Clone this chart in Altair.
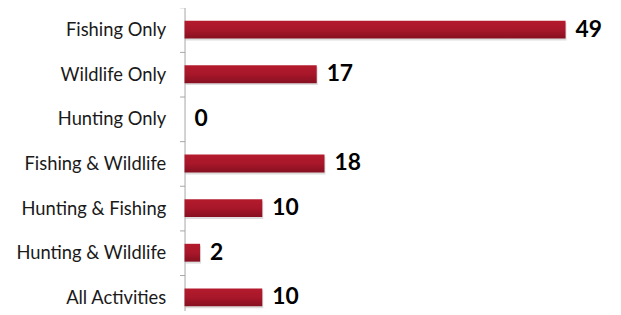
import altair as alt
import pandas as pd

categories = ["Fishing Only", "Wildlife Only", "Hunting Only", "Fishing & Wildlife",
              "Hunting & Fishing", "Hunting & Wildlife", "All Activities"]
values = [49, 17, 0, 18, 10, 2, 10]

df = pd.DataFrame({"activity": categories, "count": values})

y_enc = alt.Y("activity:N", sort=categories,
              scale=alt.Scale(range=[-2, 313], paddingInner=0, paddingOuter=0),
              axis=alt.Axis(title=None, labelFont="Lato", labelFontSize=18.5,
                            labelColor="#1a1a1a", labelPadding=14, tickSize=5,
                            tickBand="extent", tickColor="#a6a6a6",
                            domainColor="#a6a6a6", grid=False))
x_enc = alt.X("count:Q", scale=alt.Scale(domain=[0, 50], nice=False), axis=None)

grad = alt.Gradient(gradient="linear", x1=0, y1=0, x2=0, y2=1,
                    stops=[alt.GradientStop(color="#b41b2d", offset=0),
                           alt.GradientStop(color="#a8172a", offset=0.5),
                           alt.GradientStop(color="#861020", offset=1)])

base = alt.Chart(df)

shadow = base.mark_bar(size=18, color="#7a7a7a", opacity=0.25, yOffset=2, xOffset=1).encode(
    x=x_enc, y=y_enc)
bars = base.mark_bar(size=18, color=grad).encode(x=x_enc, y=y_enc)
labels = base.mark_text(align="left", baseline="middle", dx=10, dy=0, font="Lato",
                        fontSize=23, fontWeight="bold", color="#000000").encode(
    x=x_enc, y=y_enc, text="count:Q")

chart = alt.layer(shadow, bars, labels).properties(
    width=392, height=303,
    autosize=alt.AutoSizeParams(type="none"),
    padding={"left": 178, "top": 0, "right": 40, "bottom": 0},
).configure_view(stroke=None)

chart.save("out.html", embed_options={"renderer": "svg", "actions": False})
